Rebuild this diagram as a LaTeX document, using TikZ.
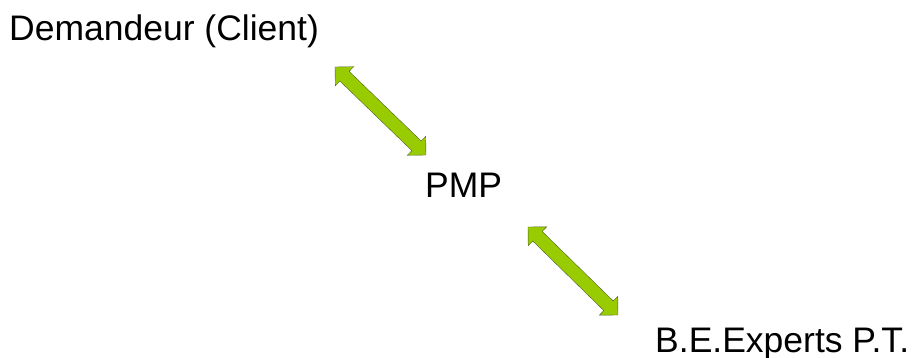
\documentclass[tikz,border=0pt]{standalone}
\usepackage{fontspec}
\setmainfont{Liberation Sans}
\usetikzlibrary{shapes.arrows,calc}
\definecolor{arrgreen}{RGB}{153,204,0}
\definecolor{arrline}{RGB}{80,96,40}
\tikzstyle{lbl}=[inner sep=0pt,anchor=base west,font=\fontsize{35.5}{40}\selectfont]
\tikzstyle{link}=[double arrow,draw=arrline,fill=arrgreen,thin,inner xsep=0pt,inner ysep=6.5pt,minimum width=0pt,double arrow head extend=6.5pt,double arrow head indent=0pt]
\begin{document}
\begin{tikzpicture}[x=1pt,y=-1pt]
  \useasboundingbox (0,0) rectangle (918,358);
  %Nodes
  \node[lbl]  (client)  at (9,41)    {Demandeur (Client)};
  \node[lbl]  (pmp)     at (425,197) {PMP};
  \node[lbl]  (expert)  at (655,352) {B.E.Experts P.T.};
  \coordinate (c1) at (335,67);
  \coordinate (c2) at (426,155);
  \coordinate (e1) at (528,227);
  \coordinate (e2) at (618,315);
  %Lines
  \path let \p1=($(c2)-(c1)$), \n1={atan2(\y1,\x1)}, \n2={veclen(\x1,\y1)} in
    node[link,rotate=\n1,minimum height=\n2] (cp) at ($(c1)!0.5!(c2)$) {};
  \path let \p1=($(e2)-(e1)$), \n1={atan2(\y1,\x1)}, \n2={veclen(\x1,\y1)} in
    node[link,rotate=\n1,minimum height=\n2] (pe) at ($(e1)!0.5!(e2)$) {};
\end{tikzpicture}
\end{document}
